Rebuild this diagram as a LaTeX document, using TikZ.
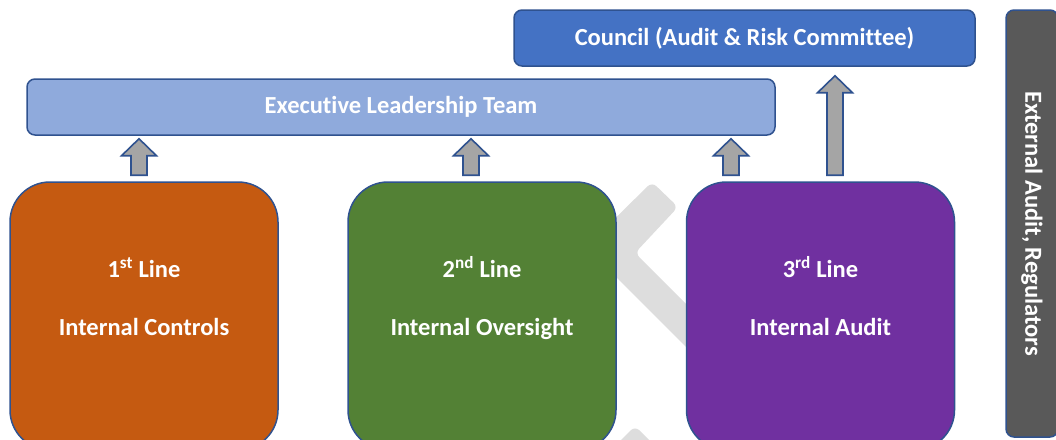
\documentclass[tikz,border=0pt]{standalone}
\usepackage{fontspec}
\setmainfont{Carlito}[Ligatures=NoCommon]
\usetikzlibrary{calc}

\definecolor{edgeblue}{HTML}{2F528F}
\definecolor{councilblue}{HTML}{4472C4}
\definecolor{eltblue}{HTML}{8FAADC}
\definecolor{liftgrey}{HTML}{A5A5A5}
\definecolor{lineorange}{HTML}{C55A11}
\definecolor{linegreen}{HTML}{538135}
\definecolor{linepurple}{HTML}{7030A0}
\definecolor{extgrey}{HTML}{595959}
\definecolor{markgrey}{HTML}{DDDDDD}

\tikzset{
	panel/.style={draw=edgeblue,line width=1.5pt,rounded corners=8pt,inner sep=0pt,
		text=white,font=\bfseries\fontsize{24.5}{29}\selectfont},
	linebox/.style={panel,rounded corners=40pt,minimum width=268,minimum height=268},
	linetext/.style={text=white,font=\bfseries\fontsize{24.5}{29}\selectfont,anchor=base,inner sep=0pt},
	lift/.style={draw=edgeblue,fill=liftgrey,line width=1.6pt},
}

\newcommand\liftarrow[4][3]{%
	\draw[lift] let \p1=(#3.north), \p2=(#4.south) in
		(#2pt-8pt,\y1+6pt) -- (#2pt-8pt,\y2-#1pt-17pt) -- (#2pt-17.5pt,\y2-#1pt-17pt)
		-- (#2pt,\y2-#1pt) -- (#2pt+17.5pt,\y2-#1pt-17pt) -- (#2pt+8pt,\y2-#1pt-17pt)
		-- (#2pt+8pt,\y1+6pt) -- cycle;}

\begin{document}
\begin{tikzpicture}[x=1pt,y=-1pt]
	\path[use as bounding box,clip] (0,0) rectangle (1056,439);
	\fill[markgrey,rounded corners=6pt] (652,182) -- (678,207) -- (635,253) -- (740,358)
		-- (740,401) -- (586,247) -- cycle;
	\fill[markgrey,rounded corners=6pt] (635,426) -- (690,481) -- (580,481) -- cycle;
	\node[panel,fill=councilblue,minimum width=461,minimum height=56] (council) at (744.5,38)
		{Council (Audit \& Risk Committee)};
	\node[panel,fill=eltblue,minimum width=748,minimum height=56] (elt) at (401,107)
		{Executive Leadership Team};
	\node[panel,fill=extgrey,minimum width=427,minimum height=52,rotate=-90] (ext) at (1032,223.5)
		{External Audit, Regulators};
	\foreach \n/\cx/\shade/\ord/\role in {1/144/lineorange/st/Internal Controls,
		2/482/linegreen/nd/Internal Oversight,3/820.5/linepurple/rd/Internal Audit}
	{
		\node[linebox,fill=\shade] (line\n) at (\cx,316) {};
		\node[linetext] (rank\n) at ($(line\n.north)+(0,96)$) {\n\textsuperscript{\ord} Line};
		\node[linetext] (role\n) at ($(line\n.north)+(0,154)$) {\role};
	}
	\liftarrow{139}{line1}{elt}
	\liftarrow{471}{line2}{elt}
	\liftarrow{731}{line3}{elt}
	\liftarrow[9]{835}{line3}{council}
\end{tikzpicture}
\end{document}
